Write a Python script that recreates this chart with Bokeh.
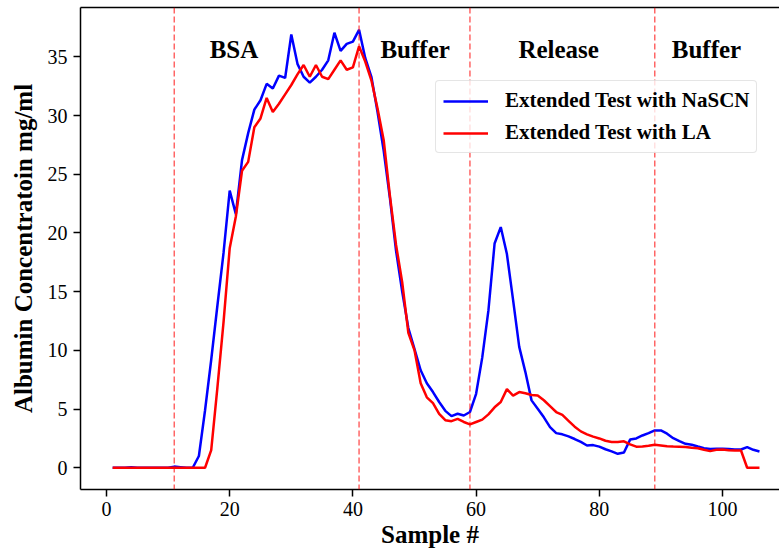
from bokeh.plotting import figure
from bokeh.models import Range1d, Span, Legend, LegendItem, LinearAxis, FixedTicker, ColumnDataSource
from bokeh.core.properties import value
from bokeh.embed import file_html
from bokeh.resources import INLINE

samples = list(range(1, 107))

nascn = [0, 0, 0, 0.05, 0, 0, 0, 0, 0, 0,
         0.1, 0.05, 0, 0, 1.0, 4.9, 9.2, 13.8, 18.3, 23.6,
         21.6, 26.2, 28.5, 30.5, 31.3, 32.7, 32.3, 33.4, 33.2, 36.9,
         34.4, 33.3, 32.8, 33.3, 33.9, 34.7, 37.05, 35.5, 36.1, 36.3,
         37.3, 34.9, 33.3, 30.3, 27.0, 23.0, 18.5, 15.0, 11.9, 10.1,
         8.3, 7.2, 6.45, 5.6, 4.85, 4.4, 4.6, 4.45, 4.75, 6.3,
         9.4, 13.4, 19.1, 20.5, 18.2, 14.3, 10.3, 8.15, 5.74, 5.03,
         4.3, 3.46, 2.95, 2.85, 2.67, 2.45, 2.2, 1.9, 1.93, 1.8,
         1.58, 1.4, 1.19, 1.3, 2.4, 2.5, 2.75, 2.95, 3.18, 3.18,
         2.9, 2.52, 2.27, 2.04, 1.96, 1.81, 1.67, 1.59, 1.62, 1.62,
         1.59, 1.56, 1.56, 1.76, 1.53, 1.39]

la = [0, 0, 0, 0, 0, 0, 0, 0, 0, 0,
      0, 0, 0, 0, 0, 0, 1.5, 6.8, 12.4, 18.7,
      21.4, 25.3, 26.05, 29.0, 29.75, 31.5, 30.3, 31.0, 31.8, 32.6,
      33.5, 34.3, 33.3, 34.3, 33.3, 33.1, 33.9, 34.7, 33.9, 34.1,
      35.9, 34.6, 33.0, 30.6, 27.9, 23.2, 19.0, 15.8, 11.5, 10.0,
      7.2, 6.0, 5.5, 4.6, 4.05, 3.97, 4.17, 3.9, 3.7, 3.9,
      4.1, 4.55, 5.15, 5.6, 6.7, 6.15, 6.45, 6.35, 6.2, 6.15,
      5.75, 5.25, 4.75, 4.5, 4.0, 3.5, 3.1, 2.85, 2.65, 2.5,
      2.3, 2.2, 2.2, 2.25, 2.0, 1.8, 1.81, 1.87, 1.96, 1.9,
      1.84, 1.81, 1.79, 1.76, 1.7, 1.67, 1.53, 1.42, 1.53, 1.56,
      1.5, 1.47, 1.47, 0, 0, 0]

phase_bounds = [11, 41, 59, 89]
phase_names = ["BSA", "Buffer", "Release", "Buffer"]
phase_label_x = [20.7, 50.1, 73.4, 97.4]
phase_label_y = [35.6, 35.6, 35.6, 35.6]

x_ticks = [0, 20, 40, 60, 80, 100]
y_ticks = [0, 5, 10, 15, 20, 25, 30, 35]

series_names = ["Extended Test with NaSCN", "Extended Test with LA"]
series_colors = ["#0000ff", "#ff0000"]

SERIF = "Liberation Serif"

p = figure(width=779, height=556, output_backend="svg", toolbar_location=None,
           x_range=Range1d(-4.22, 109.25), y_range=Range1d(-1.85, 39.2),
           min_border_left=80, min_border_right=0, min_border_top=7, min_border_bottom=67)
p.outline_line_color = None
p.xgrid.visible = False
p.ygrid.visible = False
p.background_fill_color = "white"
p.border_fill_color = "white"

for ax in (p.xaxis[0], p.yaxis[0]):
    ax.axis_line_color = "black"
    ax.axis_line_width = 1.5
    ax.major_tick_line_color = "black"
    ax.major_tick_line_width = 1.5
    ax.major_tick_out = 7
    ax.major_tick_in = 0
    ax.minor_tick_line_color = None
    ax.major_label_text_font = SERIF
    ax.major_label_text_font_size = "20px"
    ax.major_label_text_color = "black"
    ax.major_label_standoff = 5
    ax.axis_label_text_font = SERIF
    ax.axis_label_text_font_size = "25px"
    ax.axis_label_text_font_style = "bold"
    ax.axis_label_text_color = "black"

p.xaxis[0].ticker = FixedTicker(ticks=x_ticks)
p.yaxis[0].ticker = FixedTicker(ticks=y_ticks)
p.xaxis[0].axis_label = "Sample #"
p.yaxis[0].axis_label = "Albumin Concentratoin mg/ml"
p.xaxis[0].axis_label_standoff = 2
p.yaxis[0].axis_label_standoff = 8
p.yaxis[0].major_label_standoff = 6

top_axis = LinearAxis(ticker=FixedTicker(ticks=[]), axis_line_color="black", axis_line_width=1.5,
                      major_tick_line_color=None, minor_tick_line_color=None,
                      major_tick_out=0, minor_tick_out=0, major_label_standoff=0)
p.add_layout(top_axis, "above")

for b in phase_bounds:
    p.add_layout(Span(location=b, dimension="height", line_color="#ff0000", line_alpha=0.6,
                      line_dash="6 3", line_width=1.5))

src = ColumnDataSource(dict(x=samples, nascn=nascn, la=la))
r1 = p.line("x", "nascn", source=src, line_color=series_colors[0], line_width=2.5)
r2 = p.line("x", "la", source=src, line_color=series_colors[1], line_width=2.5)

tsrc = ColumnDataSource(dict(x=phase_label_x, y=phase_label_y, t=phase_names))
p.text("x", "y", text="t", source=tsrc, text_font=value(SERIF), text_font_style="bold",
       text_font_size="25px", text_align="center", text_baseline="alphabetic", text_color="black")

legend = Legend(items=[LegendItem(label=series_names[0], renderers=[r1]),
                       LegendItem(label=series_names[1], renderers=[r2])],
                location=(355, 336), margin=0, padding=7, spacing=7,
                glyph_width=45, glyph_height=20, label_standoff=17,
                label_text_font=SERIF, label_text_font_size="21px", label_text_font_style="bold",
                label_text_color="black",
                border_line_color="#cccccc", border_line_width=1.5,
                background_fill_color="white", background_fill_alpha=0.8)
if "border_radius" in Legend.properties():
    legend.border_radius = 4
p.add_layout(legend, "center")

open("out.html", "w").write(file_html(p, INLINE))
